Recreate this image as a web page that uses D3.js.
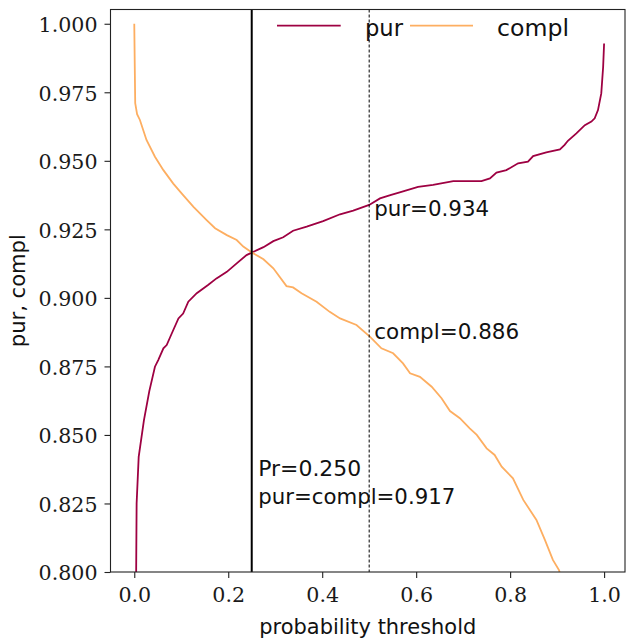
<!DOCTYPE html>
<html><head><meta charset="utf-8">
<script src="https://cdn.jsdelivr.net/npm/d3@7"></script>
<style>body{margin:0;background:#fff}</style>
</head><body>
<script>
// ---- data ----
const purX = [0.0036,0.005,0.0094,0.0206,0.032,0.044,0.051,0.062,0.069,0.08,0.094,0.104,0.115,0.133,0.157,0.175,0.197,0.218,0.239,0.251,0.275,0.296,0.317,0.338,0.367,0.402,0.438,0.466,0.5,0.523,0.545,0.565,0.604,0.636,0.679,0.739,0.757,0.771,0.792,0.817,0.838,0.849,0.877,0.906,0.916,0.923,0.941,0.959,0.973,0.98,0.987,0.994,0.998,1.0];
const purY = [0.79,0.825,0.842,0.8554,0.866,0.8749,0.8773,0.8816,0.8828,0.8871,0.8925,0.8943,0.8986,0.9017,0.9047,0.9071,0.9095,0.9126,0.9156,0.9166,0.9185,0.9207,0.9221,0.9245,0.926,0.928,0.9305,0.9318,0.9339,0.9363,0.9375,0.9385,0.9405,0.9412,0.9426,0.9426,0.9436,0.9457,0.9466,0.9491,0.9497,0.9517,0.9531,0.9542,0.9558,0.9573,0.960,0.963,0.9643,0.9655,0.9685,0.9746,0.9843,0.9928];
const complX = [0.0,0.001,0.002,0.006,0.012,0.026,0.044,0.062,0.083,0.104,0.126,0.154,0.172,0.197,0.218,0.232,0.251,0.275,0.296,0.324,0.338,0.356,0.388,0.416,0.438,0.473,0.502,0.526,0.551,0.572,0.587,0.608,0.633,0.654,0.672,0.693,0.714,0.729,0.75,0.767,0.782,0.806,0.828,0.856,0.874,0.891,0.904,0.91];
const complY = [1.0,0.985,0.971,0.967,0.9649,0.9576,0.9515,0.9466,0.9417,0.9375,0.9332,0.9284,0.9254,0.9229,0.9211,0.9187,0.9165,0.9141,0.9108,0.9043,0.9038,0.9017,0.8986,0.8949,0.8925,0.8901,0.8858,0.8816,0.8798,0.8761,0.8725,0.8712,0.8676,0.8634,0.8587,0.8561,0.8524,0.85,0.8451,0.8427,0.8384,0.8342,0.8263,0.819,0.8117,0.8044,0.8007,0.797];
const xTicks = [0.0,0.2,0.4,0.6,0.8,1.0];
const yTicks = [0.800,0.825,0.850,0.875,0.900,0.925,0.950,0.975,1.000];
const seriesNames = ["pur","compl"];
const bestThreshold = 0.25, bestValue = 0.917;
const refThreshold = 0.5, refPur = 0.934, refCompl = 0.886;

// ---- layout ----
const W = 628, H = 641;
const L = 110.5, R = 625, T = 9.5, B = 572;
const purColor = "#9e0142", complColor = "#fdae61";
const serif = "'DejaVu Serif', serif", sans = "'DejaVu Sans', sans-serif";

const svg = d3.select("body").append("svg").attr("width", W).attr("height", H);
const x = d3.scaleLinear().domain([-0.0506, 1.0445]).range([L, R]);
const y = d3.scaleLinear().domain([0.8, 1.0052]).range([B, T]);

svg.append("clipPath").attr("id","clip").append("rect")
  .attr("x", L).attr("y", T).attr("width", R-L).attr("height", B-T);

const line = d3.line().x(d => x(d[0])).y(d => y(d[1]));
const g = svg.append("g").attr("clip-path","url(#clip)");
g.append("path").datum(purX.map((v,i)=>[v,purY[i]]))
  .attr("d", line).attr("fill","none").attr("stroke",purColor).attr("stroke-width",1.8);
g.append("path").datum(complX.map((v,i)=>[v,complY[i]]))
  .attr("d", line).attr("fill","none").attr("stroke",complColor).attr("stroke-width",1.8);

// vertical lines
g.append("line").attr("x1",x(bestThreshold)).attr("x2",x(bestThreshold)).attr("y1",T).attr("y2",B)
  .attr("stroke","#000").attr("stroke-width",2);
g.append("line").attr("x1",x(refThreshold)).attr("x2",x(refThreshold)).attr("y1",T).attr("y2",B)
  .attr("stroke","#000").attr("stroke-width",1).attr("stroke-dasharray","3,2");

// axes
const xAxis = d3.axisBottom(x).tickValues(xTicks).tickFormat(d3.format(".1f")).tickSize(6).tickPadding(8);
const yAxis = d3.axisLeft(y).tickValues(yTicks).tickFormat(d3.format(".3f")).tickSize(6).tickPadding(7);
const gx = svg.append("g").attr("transform",`translate(0,${B})`).call(xAxis);
const gy = svg.append("g").attr("transform",`translate(${L},0)`).call(yAxis);
[gx, gy].forEach(a => {
  a.select(".domain").remove();
  a.selectAll(".tick line").attr("stroke","#222").attr("stroke-width",1.1);
  a.selectAll(".tick text").attr("font-family",serif).attr("font-size",20.6).attr("fill","#1a1a1a");
});
gy.selectAll(".tick text").attr("dy","0.38em");
gx.selectAll(".tick text").attr("dy","0.78em");

// frame
svg.append("rect").attr("x",L).attr("y",T).attr("width",R-L).attr("height",B-T)
  .attr("fill","none").attr("stroke","#222").attr("stroke-width",1.1);

// labels
svg.append("text").attr("x",(L+R)/2).attr("y",634).attr("text-anchor","middle")
  .attr("font-family",sans).attr("font-size",21).attr("fill","#111")
  .attr("textLength",217).attr("lengthAdjust","spacingAndGlyphs").text("probability threshold");
svg.append("text").attr("transform",`translate(25,${(T+B)/2}) rotate(-90)`).attr("text-anchor","middle")
  .attr("font-family",sans).attr("font-size",21).attr("fill","#111")
  .attr("textLength",113).attr("lengthAdjust","spacingAndGlyphs").text("pur, compl");

// annotations
function ann(tx, ty, s, len){
  svg.append("text").attr("x",tx).attr("y",ty).attr("font-family",sans).attr("font-size",21.5)
    .attr("fill","#111").attr("textLength",len).attr("lengthAdjust","spacingAndGlyphs").text(s);
}
ann(x(refThreshold)+5, y(refPur)+11.5, `pur=${refPur.toFixed(3)}`, 115);
ann(x(refThreshold)+5, y(refCompl)+3.2, `compl=${refCompl.toFixed(3)}`, 145);
ann(x(bestThreshold)+6.5, 476, `Pr=${bestThreshold.toFixed(3)}`, 103);
ann(x(bestThreshold)+6.5, 503.5, `pur=compl=${bestValue.toFixed(3)}`, 197);

// legend
const leg = [{name:seriesNames[0], c:purColor, x1:277, x2:340.7, tx:365, tl:38},
             {name:seriesNames[1], c:complColor, x1:410, x2:473, tx:497, tl:72}];
leg.forEach(d => {
  svg.append("line").attr("x1",d.x1).attr("x2",d.x2).attr("y1",25.7).attr("y2",25.7)
    .attr("stroke",d.c).attr("stroke-width",1.8);
  svg.append("text").attr("x",d.tx).attr("y",36).attr("font-family",sans).attr("font-size",23)
    .attr("fill","#111").attr("textLength",d.tl).attr("lengthAdjust","spacingAndGlyphs").text(d.name);
});
</script>
</body></html>
